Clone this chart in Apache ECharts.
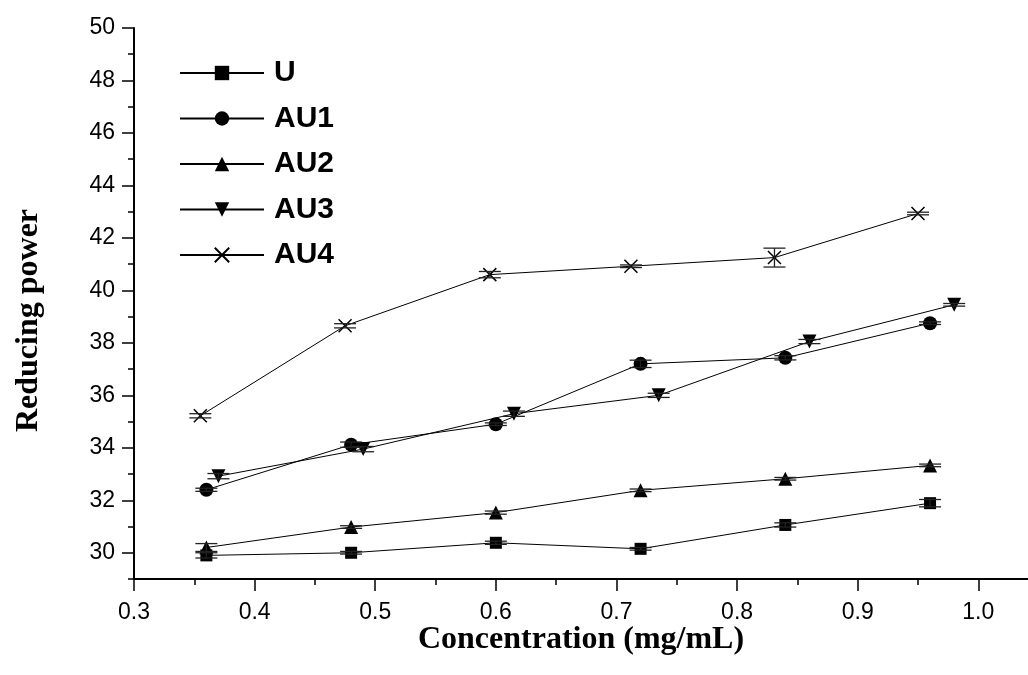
<!DOCTYPE html>
<html>
<head>
<meta charset="utf-8">
<script src="https://cdn.jsdelivr.net/npm/echarts@6/dist/echarts.min.js"></script>
<style>html,body{margin:0;padding:0;background:#fff;}#c{width:1028px;height:675px;}</style>
</head>
<body>
<div id="c"></div>
<script>
// ---- data ----
const seriesNames = ['U', 'AU1', 'AU2', 'AU3', 'AU4'];
const xU   = [0.36, 0.48, 0.60, 0.72, 0.84, 0.96];
const yU   = [29.9, 30.0, 30.38, 30.15, 31.06, 31.89];
const eU   = [0.10, 0.05, 0.06, 0.05, 0.08, 0.14];
const xAU1 = [0.36, 0.48, 0.60, 0.72, 0.84, 0.96];
const yAU1 = [32.4, 34.12, 34.9, 37.2, 37.43, 38.75];
const eAU1 = [0.06, 0.10, 0.05, 0.14, 0.08, 0.05];
const xAU2 = [0.36, 0.48, 0.60, 0.72, 0.84, 0.96];
const yAU2 = [30.2, 30.98, 31.53, 32.38, 32.82, 33.33];
const eAU2 = [0.15, 0.05, 0.06, 0.05, 0.05, 0.05];
const xAU3 = [0.37, 0.49, 0.615, 0.735, 0.86, 0.98];
const yAU3 = [32.92, 33.95, 35.3, 36.0, 38.05, 39.45];
const eAU3 = [0.10, 0.10, 0.10, 0.08, 0.08, 0.05];
const xAU4 = [0.355, 0.475, 0.595, 0.712, 0.831, 0.95];
const yAU4 = [35.22, 38.65, 40.6, 40.92, 41.25, 42.93];
const eAU4 = [0.08, 0.08, 0.12, 0.05, 0.36, 0.05];
const yTickLabels = [30, 32, 34, 36, 38, 40, 42, 44, 46, 48, 50];
const yMinorTicks = [29, 31, 33, 35, 37, 39, 41, 43, 45, 47, 49];
const xTickLabels = [0.3, 0.4, 0.5, 0.6, 0.7, 0.8, 0.9, 1.0];
const xMinorTicks = [0.35, 0.45, 0.55, 0.65, 0.75, 0.85, 0.95];

const xs = [xU, xAU1, xAU2, xAU3, xAU4];
const ys = [yU, yAU1, yAU2, yAU3, yAU4];
const es = [eU, eAU1, eAU2, eAU3, eAU4];
const symbols = ['rect', 'circle', 'triangle', 'triangle', 'path://M0,0L10,10M10,0L0,10'];
const symSizes = [12, 14, 14, 14, 13];

const chart = echarts.init(document.getElementById('c'), null, {renderer: 'canvas'});

function errRender(params, api) {
  const x = api.value(0), lo = api.value(1), hi = api.value(2);
  const a = api.coord([x, lo]), b = api.coord([x, hi]);
  const w = 11;
  const st = {stroke: '#222', lineWidth: 1.3};
  return {type: 'group', children: [
    {type: 'line', shape: {x1: a[0], y1: a[1], x2: b[0], y2: b[1]}, style: st},
    {type: 'line', shape: {x1: a[0] - w, y1: a[1], x2: a[0] + w, y2: a[1]}, style: st},
    {type: 'line', shape: {x1: b[0] - w, y1: b[1], x2: b[0] + w, y2: b[1]}, style: st}
  ]};
}

const series = [];
seriesNames.forEach((name, i) => {
  const isCross = i === 4;
  series.push({
    name: name,
    type: 'line',
    data: xs[i].map((x, k) => [x, ys[i][k]]),
    symbol: symbols[i],
    symbolSize: symSizes[i],
    symbolRotate: i === 3 ? 180 : 0,
    showAllSymbol: true,
    lineStyle: {color: '#000', width: 1},
    itemStyle: isCross ? {color: 'rgba(0,0,0,0)', borderColor: '#000', borderWidth: 1.5}
                       : {color: '#000', borderWidth: 0},
    emphasis: {disabled: true},
    z: 3
  });
  series.push({
    name: name + '_err',
    type: 'custom',
    renderItem: errRender,
    encode: {x: 0, y: [1, 2]},
    data: xs[i].map((x, k) => [x, ys[i][k] - es[i][k], ys[i][k] + es[i][k]]),
    silent: true,
    z: 4
  });
});

const option = {
  backgroundColor: '#fff',
  animation: false,
  grid: {left: 134, top: 28, right: 0, bottom: 96, containLabel: false},
  legend: {
    data: seriesNames,
    orient: 'vertical',
    left: 179,
    top: 58,
    padding: 0,
    itemWidth: 84,
    itemHeight: 18,
    itemGap: 15.5,
    textStyle: {fontFamily: 'Liberation Sans', fontWeight: 'bold', fontSize: 30, color: '#000', padding: [0, 0, 0, 5]},
    selectedMode: false
  },
  xAxis: [{
    type: 'value',
    min: 0.3,
    max: 1.0412,
    name: 'Concentration (mg/mL)',
    nameLocation: 'middle',
    nameGap: 45,
    nameMoveOverlap: false,
    nameTextStyle: {fontFamily: 'Liberation Serif', fontWeight: 'bold', fontSize: 32, color: '#000'},
    axisLine: {show: true, lineStyle: {color: '#000', width: 2}},
    axisTick: {show: true, length: 12, lineStyle: {color: '#000', width: 1.5}, customValues: xTickLabels},
    axisLabel: {show: true, customValues: xTickLabels, margin: 22, fontFamily: 'Liberation Sans', fontSize: 23, color: '#000',
      formatter: v => v.toFixed(1)},
    splitLine: {show: false}
  }, {
    type: 'value',
    min: 0.3,
    max: 1.0412,
    position: 'bottom',
    axisLine: {show: false},
    axisTick: {show: true, length: 6, lineStyle: {color: '#000', width: 1.5}, customValues: xMinorTicks},
    axisLabel: {show: false},
    splitLine: {show: false}
  }],
  yAxis: [{
    type: 'value',
    min: 29,
    max: 50,
    name: 'Reducing power',
    nameLocation: 'middle',
    nameGap: 89,
    nameMoveOverlap: false,
    nameTextStyle: {fontFamily: 'Liberation Serif', fontWeight: 'bold', fontSize: 32, color: '#000', padding: [0, 34, 0, 0]},
    axisLine: {show: true, lineStyle: {color: '#000', width: 2}},
    axisTick: {show: true, length: 12, lineStyle: {color: '#000', width: 1.5}, customValues: yTickLabels},
    axisLabel: {show: true, customValues: yTickLabels, margin: 19, fontFamily: 'Liberation Sans', fontSize: 23, color: '#000'},
    splitLine: {show: false}
  }, {
    type: 'value',
    min: 29,
    max: 50,
    interval: 1,
    position: 'left',
    axisLine: {show: false},
    axisTick: {show: true, length: 6, lineStyle: {color: '#000', width: 1.5}, customValues: yMinorTicks},
    axisLabel: {show: false},
    splitLine: {show: false}
  }],
  series: series
};
chart.setOption(option);
</script>
</body>
</html>
